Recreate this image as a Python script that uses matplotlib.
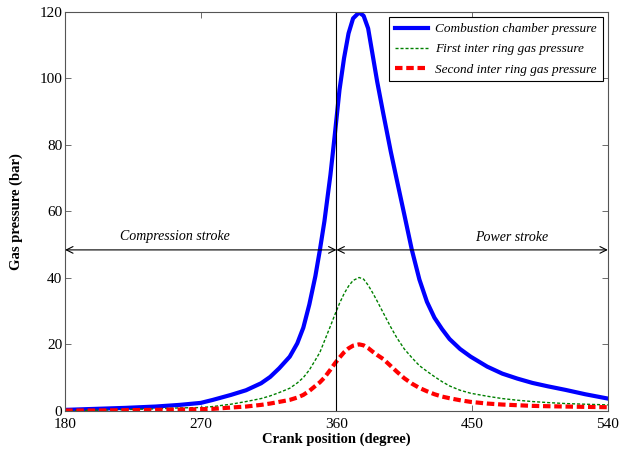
import matplotlib
matplotlib.use("Agg")
import matplotlib.pyplot as plt

plt.rcParams['font.family'] = ['Liberation Serif', 'DejaVu Serif']

# crank angle (degree)
crank = [180, 200, 220, 240, 256, 270, 278, 290, 300, 310, 316, 322, 329, 334,
         338, 342, 346, 349, 352, 356, 359, 362, 365, 368, 371, 375, 378, 381,
         384, 387, 391, 396, 400, 405, 410, 415, 420, 425, 430, 435, 442, 449,
         460, 470, 480, 490, 500, 512, 525, 540]

# combustion chamber pressure (bar)
p_comb = [0.3, 0.6, 0.9, 1.3, 1.8, 2.4, 3.3, 4.8, 6.2, 8.3, 10.2, 12.8, 16.3, 20.3,
          25.0, 32.0, 40.5, 48.4, 57.0, 71.0, 83.5, 96.5, 106.0, 113.5, 118.0, 119.8, 118.8, 115.0,
          107.0, 99.0, 89.5, 78.0, 69.5, 59.0, 48.4, 39.5, 32.8, 28.0, 24.6, 21.6, 18.6, 16.3,
          13.3, 11.2, 9.7, 8.4, 7.4, 6.3, 5.0, 3.7]

# first inter ring gas pressure (bar)
p_ring1 = [0.1, 0.2, 0.4, 0.6, 0.9, 1.0, 1.3, 2.0, 2.8, 3.7, 4.5, 5.5, 6.8, 8.4,
           10.0, 12.3, 15.3, 17.6, 21.0, 25.5, 29.0, 32.3, 35.2, 37.5, 39.2, 40.1, 39.6, 37.8,
           35.5, 33.0, 29.5, 25.2, 22.0, 18.6, 16.0, 13.6, 11.9, 10.3, 8.8, 7.5, 6.2, 5.3,
           4.4, 3.7, 3.2, 2.8, 2.5, 2.2, 2.0, 1.8]

# second inter ring gas pressure (bar)
p_ring2 = [0.1, 0.1, 0.2, 0.3, 0.4, 0.5, 0.6, 1.0, 1.3, 1.8, 2.2, 2.7, 3.3, 4.0,
           4.8, 6.0, 7.5, 8.6, 10.0, 12.4, 14.3, 16.0, 17.6, 18.8, 19.6, 20.0, 19.7, 18.9,
           17.8, 16.8, 15.6, 13.5, 11.8, 9.8, 8.2, 6.9, 5.9, 5.0, 4.3, 3.8, 3.2, 2.7,
           2.2, 1.9, 1.7, 1.5, 1.4, 1.3, 1.2, 1.1]

xticks = [180, 270, 360, 450, 540]
yticks = [0, 20, 40, 60, 80, 100, 120]
tdc = 360
stroke_level = 48.4

fig = plt.figure(figsize=(6.26, 4.53), dpi=100)
ax = fig.add_axes([0.104, 0.093, 0.867, 0.881])

ax.plot(crank, p_comb, color='#0000ff', lw=3.0, label='Combustion chamber pressure')
ax.plot(crank, p_ring1, color='#008000', lw=1.0, dashes=(2.2, 1.4),
        label='First inter ring gas pressure')
ax.plot(crank, p_ring2, color='#ff0000', lw=3.0, dashes=(1.8, 0.9),
        label='Second inter ring gas pressure')

ax.axvline(tdc, color='black', lw=0.8)

arrow = dict(arrowstyle='<->', color='black', lw=0.8, shrinkA=0, shrinkB=0,
             mutation_scale=12)
ax.annotate('', xy=(180, stroke_level), xytext=(tdc, stroke_level), arrowprops=arrow)
ax.annotate('', xy=(tdc, stroke_level), xytext=(540, stroke_level), arrowprops=arrow)
ax.text(253, 52.5, 'Compression stroke', style='italic', fontsize=10, ha='center', va='center')
ax.text(476, 52.0, 'Power stroke', style='italic', fontsize=10, ha='center', va='center')

ax.set_xlim(180, 540)
ax.set_ylim(0, 120)
ax.set_xticks(xticks)
ax.set_yticks(yticks)
ax.tick_params(direction='in', top=True, right=True, labelsize=11, length=4, width=0.6,
               color='#555555')
ax.tick_params(axis='x', pad=5)
ax.tick_params(axis='y', pad=2)
for s in ax.spines.values():
    s.set_linewidth(0.8)
    s.set_color('#555555')

ax.set_xlabel('Crank position (degree)', fontsize=10.5, fontweight='bold', labelpad=1)
ax.set_ylabel('Gas pressure (bar)', fontsize=10.5, fontweight='bold', labelpad=12)

leg = ax.legend(loc='upper right', prop={'style': 'italic', 'size': 9.5}, handlelength=2.5,
                fancybox=False, framealpha=1, edgecolor='black', borderpad=0.45,
                labelspacing=0.6, borderaxespad=0.4, handletextpad=0.5)
leg.get_frame().set_linewidth(0.8)

fig.savefig('out.png', dpi=100)
